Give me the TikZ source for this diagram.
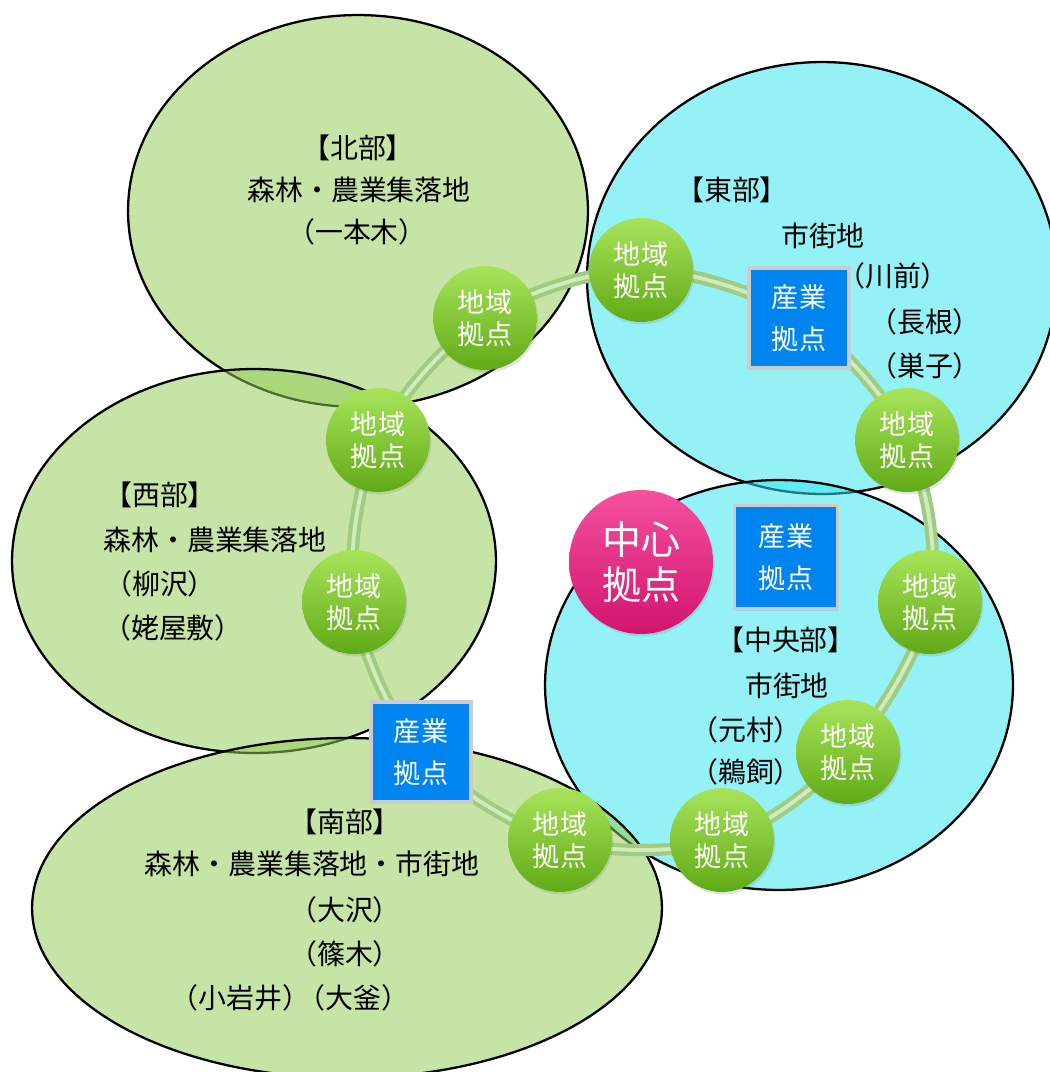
\documentclass[tikz,border=0pt]{standalone}
\usepackage{fontspec}
\usepackage{xcolor}
\usetikzlibrary{positioning,shadows}
\newfontfamily\jp{Noto Sans CJK JP}
\definecolor{zonegreen}{RGB}{146,204,86}
\definecolor{zonecyan}{RGB}{53,230,240}
\definecolor{ballgreen}{RGB}{124,200,34}
\definecolor{balltop}{RGB}{168,228,90}
\definecolor{ballbottom}{RGB}{96,170,22}
\definecolor{boxblue}{RGB}{0,132,240}
\definecolor{hubpink}{RGB}{236,28,128}
\definecolor{hubtop}{RGB}{244,80,158}
\definecolor{hubbottom}{RGB}{210,20,112}
\definecolor{ringdark}{RGB}{160,204,130}
\definecolor{ringlight}{RGB}{208,236,190}
\pgfdeclarelayer{zones}
\pgfdeclarelayer{links}
\pgfsetlayers{zones,links,main}

\begin{document}
\begin{tikzpicture}[x=0.02cm, y=-0.02cm,
  zone/.style={draw=black, line width=1.3pt, fill opacity=0.53},
  areatext/.style={font=\jp\fontsize{15.9}{19}\selectfont, inner sep=0pt},
  chiiki/.style={circle, minimum size=2.08cm, inner sep=0pt,
    top color=balltop, middle color=ballgreen, bottom color=ballbottom,
    text=white, align=center, font=\jp\fontsize{15.4}{18.2}\selectfont,
    drop shadow={opacity=0.22, shadow xshift=0.8pt, shadow yshift=-1.4pt}},
  sangyo/.style={rectangle, minimum size=2.0cm, inner sep=0pt,
    fill=boxblue, draw=gray!40, line width=2pt,
    text=white, align=center, font=\jp\fontsize{15.4}{23.9}\selectfont,
    drop shadow={opacity=0.22, shadow xshift=0.8pt, shadow yshift=-1.4pt}},
  chushin/.style={circle, minimum size=2.88cm, inner sep=0pt,
    top color=hubtop, middle color=hubpink, bottom color=hubbottom,
    text=white, align=center, font=\jp\fontsize{22.2}{25.6}\selectfont,
    drop shadow={opacity=0.22, shadow xshift=0.8pt, shadow yshift=-1.4pt}},
  ring/.style={draw=ringlight, line width=2.2pt,
    preaction={draw=ringdark, line width=7pt}}]

\useasboundingbox (0,0) rectangle (1049,1072);

% areas
\begin{pgfonlayer}{zones}
\draw[zone, fill=zonegreen] (358,211) ellipse [x radius=4.6cm, y radius=3.92cm];
\draw[zone, fill=zonecyan]  (822,278) ellipse [x radius=4.7cm, y radius=4.32cm];
\draw[zone, fill=zonegreen] (254,561) ellipse [x radius=4.84cm, y radius=3.84cm];
\draw[zone, fill=zonecyan]  (779,685) ellipse [x radius=4.68cm, y radius=4.1cm];
\draw[zone, fill=zonegreen] (347,908) ellipse [x radius=6.3cm, y radius=3.4cm];
\end{pgfonlayer}

% hubs on the ring
\node[chiiki] (c1) at (485,318) {地域\\拠点};
\node[chiiki] (c2) at (641,270) {地域\\拠点};
\node[sangyo] (s1) at (799,318) {産業\\拠点};
\node[chiiki] (c3) at (907,440) {地域\\拠点};
\node[chiiki] (c4) at (930,602) {地域\\拠点};
\node[chiiki] (c5) at (848,752) {地域\\拠点};
\node[chiiki] (c6) at (722,840) {地域\\拠点};
\node[chiiki] (c7) at (560,840) {地域\\拠点};
\node[sangyo] (s3) at (421,752) {産業\\拠点};
\node[chiiki] (c8) at (354,602) {地域\\拠点};
\node[chiiki] (c9) at (378,440) {地域\\拠点};

% centre
\node[chushin] (ch) at (641,562) {中心\\拠点};
\node[sangyo, minimum size=2.06cm] (s2) at (786,557) {産業\\拠点};

\begin{pgfonlayer}{links}
\draw[ring] plot[smooth cycle, tension=0.55] coordinates
  {(c1) (c2) (s1) (c3) (c4) (c5) (c6) (c7) (s3) (c8) (c9)};
\end{pgfonlayer}

% north
\node[areatext] (n0) at (358,148) {【北部】};
\node[areatext] (n1) at (359,190) {森林・農業集落地};
\node[areatext] (n2) at (357,232) {（一本木）};

% east
\node[areatext] (e0) at (732,190) {【東部】};
\node[areatext] (e1) at (823,236) {市街地};
\node[areatext] (e2) at (893,276) {（川前）};
\node[areatext] (e3) at (925,322) {（長根）};
\node[areatext] (e4) at (925,366) {（巣子）};

% west
\node[areatext] (w0) at (160,495) {【西部】};
\node[areatext] (w1) at (215,540) {森林・農業集落地};
\node[areatext] (w2) at (160,584) {（柳沢）};
\node[areatext] (w3) at (173,628) {（姥屋敷）};

% central
\node[areatext] (m0) at (786,640) {【中央部】};
\node[areatext] (m1) at (787,686) {市街地};
\node[areatext] (m2) at (746,730) {（元村）};
\node[areatext] (m3) at (746,772) {（鵜飼）};

% south
\node[areatext] (so0) at (345,822) {【南部】};
\node[areatext] (so1) at (312,864) {森林・農業集落地・市街地};
\node[areatext] (so2) at (345,910) {（大沢）};
\node[areatext] (so3) at (345,954) {（篠木）};
\node[areatext] (so4) at (290,998) {（小岩井）\kern-0.45em（大釜）};

\end{tikzpicture}
\end{document}
